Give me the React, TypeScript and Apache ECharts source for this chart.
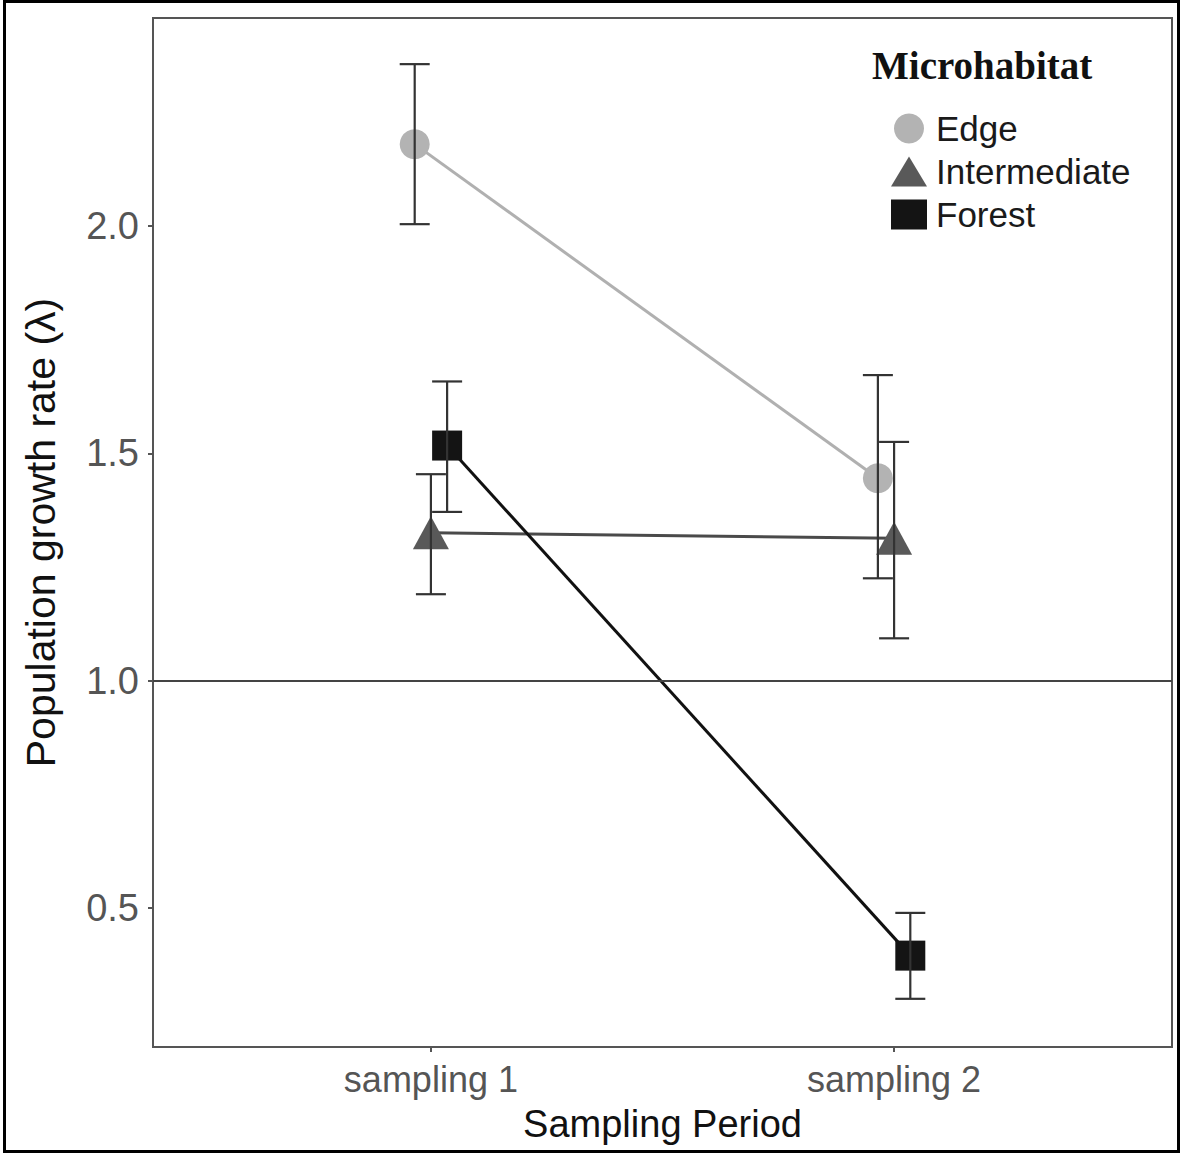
import React, { useEffect, useRef } from 'react';
import * as echarts from 'echarts';

const categories = ['sampling 1', 'sampling 2'];
const groups = ['Edge', 'Intermediate', 'Forest'];
const edgeMean = [2.18, 1.445];
const edgeLower = [2.004, 1.225];
const edgeUpper = [2.356, 1.672];
const interMean = [1.325, 1.313];
const interLower = [1.19, 1.093];
const interUpper = [1.454, 1.525];
const forestMean = [1.517, 0.395];
const forestLower = [1.371, 0.3];
const forestUpper = [1.658, 0.489];
const dodge = [-0.035, 0, 0.035];
const yTicks = [0.5, 1.0, 1.5, 2.0];
const refLine = 1.0;

const SANS = 'Liberation Sans, Arial, sans-serif';

export default function App() {
  const ref = useRef<HTMLDivElement>(null);
  useEffect(() => {
    const chart = echarts.init(ref.current!, null, { renderer: 'svg' });
    const means = [edgeMean, interMean, forestMean];
    const lowers = [edgeLower, interLower, forestLower];
    const uppers = [edgeUpper, interUpper, forestUpper];
    const symbols = ['circle', 'triangle', 'rect'];
    const symbolSizes: any[] = [30, [36, 33], 30];
    const pointColors = ['#b3b3b3', '#595959', '#141414'];
    const lineColors = ['#b0b0b0', '#4a4a4a', '#111111'];

    const lineSeries = groups.map((g, gi) => ({
      type: 'line',
      name: g,
      z: 2,
      data: categories.map((_, ci) => [ci + 1 + dodge[gi], means[gi][ci]]),
      symbol: symbols[gi],
      symbolSize: symbolSizes[gi],
      itemStyle: { color: pointColors[gi], opacity: 1 },
      lineStyle: { color: lineColors[gi], width: 3 },
      ...(gi === 0
        ? {
            markLine: {
              silent: true,
              symbol: 'none',
              label: { show: false },
              lineStyle: { color: '#444', width: 2, type: 'solid' },
              data: [{ yAxis: refLine }],
            },
          }
        : {}),
    }));

    const errData: number[][] = [];
    groups.forEach((_, gi) => {
      categories.forEach((_, ci) => {
        errData.push([ci + 1 + dodge[gi], lowers[gi][ci], uppers[gi][ci]]);
      });
    });

    const errSeries = {
      type: 'custom',
      name: 'err',
      z: 3,
      data: errData,
      encode: { x: 0, y: [1, 2] },
      renderItem: (params: any, api: any) => {
        const x = api.value(0);
        const lo = api.value(1);
        const hi = api.value(2);
        const pLo = api.coord([x, lo]);
        const pHi = api.coord([x, hi]);
        const w = 15;
        const style = { stroke: '#333', lineWidth: 2.2, fill: null };
        return {
          type: 'group',
          children: [
            { type: 'line', shape: { x1: pLo[0], y1: pHi[1], x2: pLo[0], y2: pLo[1] }, style },
            { type: 'line', shape: { x1: pLo[0] - w, y1: pHi[1], x2: pLo[0] + w, y2: pHi[1] }, style },
            { type: 'line', shape: { x1: pLo[0] - w, y1: pLo[1], x2: pLo[0] + w, y2: pLo[1] }, style },
          ],
        };
      },
    };

    chart.setOption({
      animation: false,
      backgroundColor: '#ffffff',
      title: {
        text: 'Microhabitat',
        left: 867,
        top: 41,
        textStyle: {
          fontFamily: 'Liberation Serif, Times New Roman, serif',
          fontWeight: 'bold',
          fontSize: 39,
          color: '#111',
        },
      },
      legend: {
        orient: 'vertical',
        left: 886,
        top: 106,
        itemWidth: 36,
        itemHeight: 30,
        itemGap: 8,
        data: [
          { name: 'Edge', icon: 'circle' },
          { name: 'Intermediate', icon: 'triangle' },
          { name: 'Forest', icon: 'rect' },
        ],
        textStyle: {
          fontFamily: SANS,
          fontSize: 35,
          color: '#1a1a1a',
          lineHeight: 30,
          padding: [0, 0, 0, 4],
        },
      },
      grid: {
        left: 153,
        top: 18,
        right: 9,
        bottom: 107,
        show: true,
        borderColor: '#555',
        borderWidth: 2,
        backgroundColor: 'transparent',
      },
      xAxis: {
        type: 'value',
        min: 0.4,
        max: 2.6,
        axisLine: { show: false },
        splitLine: { show: false },
        axisTick: { show: true, customValues: [1, 2], length: 5, lineStyle: { color: '#555', width: 2 } },
        axisLabel: {
          customValues: [1, 2],
          formatter: (v: number) => categories[Math.round(v) - 1] ?? '',
          fontFamily: SANS,
          fontSize: 36,
          color: '#555',
          margin: 14,
        },
        name: 'Sampling Period',
        nameLocation: 'middle',
        nameGap: 58,
        nameTextStyle: { fontFamily: SANS, fontSize: 38, color: '#111' },
      },
      yAxis: {
        type: 'value',
        min: 0.194,
        max: 2.4575,
        axisLine: { show: false },
        splitLine: { show: false },
        axisTick: { show: true, customValues: yTicks, length: 5, lineStyle: { color: '#555', width: 2 } },
        axisLabel: {
          customValues: yTicks,
          formatter: (v: number) => v.toFixed(1),
          fontFamily: SANS,
          fontSize: 38,
          color: '#555',
          margin: 14,
        },
        name: 'Population growth rate (\u03bb)',
        nameLocation: 'middle',
        nameGap: 92,
        nameTextStyle: { fontFamily: SANS, fontSize: 41, color: '#111' },
      },
      graphic: [
        {
          type: 'rect',
          silent: true,
          shape: { x: 4.5, y: 1.5, width: 1174, height: 1150 },
          style: { fill: 'none', stroke: '#000', lineWidth: 3 },
        },
      ],
      series: [...lineSeries, errSeries],
    });
    return () => chart.dispose();
  }, []);
  return (
    <div
      ref={ref}
      style={{ position: 'absolute', left: 0, top: 0, width: 1181, height: 1154 }}
    />
  );
}
